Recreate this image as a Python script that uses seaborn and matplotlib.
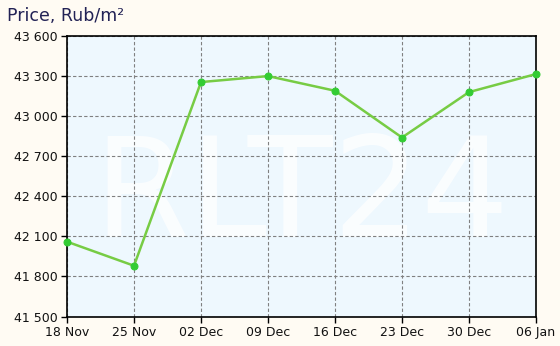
import matplotlib
matplotlib.use("Agg")
import matplotlib.pyplot as plt
import seaborn as sns
import pandas as pd

dates = ["18 Nov", "25 Nov", "02 Dec", "09 Dec", "16 Dec", "23 Dec", "30 Dec", "06 Jan"]
prices = [42060, 41880, 43255, 43300, 43190, 42840, 43180, 43315]
yticks = [41500, 41800, 42100, 42400, 42700, 43000, 43300, 43600]

sns.set_style("white")
plt.rcParams['font.family'] = ['DejaVu Sans']

df = pd.DataFrame({"x": range(len(dates)), "price": prices})

fig = plt.figure(figsize=(5.6, 3.46), dpi=100, facecolor="#FFFBF3")
ax = fig.add_axes([67/560, 1-316.5/346, (536-67)/560, (316.5-36)/346])
ax.set_facecolor("#EEF8FE")

ax.text(0.5, 0.42, "RLT24", transform=ax.transAxes, ha="center", va="center",
        fontsize=100, color="white", alpha=0.75, zorder=0.5)

sns.lineplot(data=df, x="x", y="price", ax=ax, color="#77CC44", linewidth=1.8,
             marker="o", markersize=5, markerfacecolor="#33CC33",
             markeredgecolor="#33CC33", zorder=3, clip_on=False)

ax.set_xlim(0, len(dates) - 1)
ax.set_ylim(41500, 43600)
ax.set_xticks(range(len(dates)))
ax.set_xticklabels(dates)
ax.set_yticks(yticks)
ax.set_yticklabels([f"{v:,}".replace(",", " ") for v in yticks])
ax.grid(True, color="#808080", linestyle=(0, (3, 2)), linewidth=0.8)
ax.set_axisbelow(True)
for s in ax.spines.values():
    s.set_color("black")
    s.set_linewidth(1.2)
ax.tick_params(axis="both", length=4, width=1, color="black", labelsize=9,
               labelcolor="#111111", direction="out", pad=3)
ax.tick_params(axis="both", which="both", bottom=True, left=True)
ax.set_xlabel("")
ax.set_ylabel("")

fig.text(7/560, 1-16/346, "Price, Rub/m²", fontsize=12.5, color="#222255",
         ha="left", va="center")

fig.savefig("out.png", dpi=100, facecolor=fig.get_facecolor())
